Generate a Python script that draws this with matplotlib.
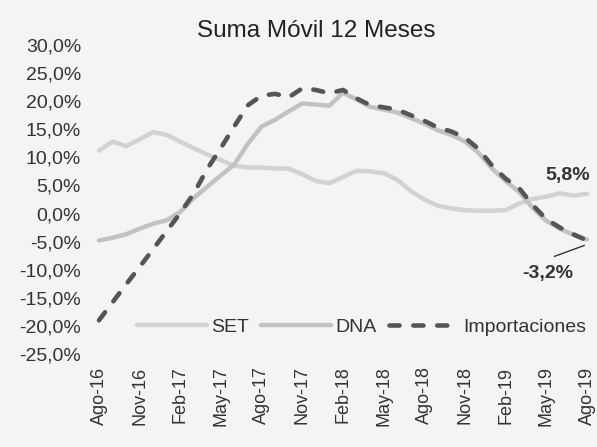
import matplotlib.pyplot as plt
import numpy as np

plt.rcParams['font.family'] = ['Liberation Sans', 'DejaVu Sans']

# monthly, Ago-16 .. Ago-19
meses = ['Ago-16', 'Nov-16', 'Feb-17', 'May-17', 'Ago-17', 'Nov-17', 'Feb-18',
         'May-18', 'Ago-18', 'Nov-18', 'Feb-19', 'May-19', 'Ago-19']

set_vals = [11.2, 12.8, 12.0, 13.2, 14.5, 14.0, 12.8, 11.6, 10.5, 9.5, 8.5, 8.2, 8.2,
            8.0, 8.0, 7.0, 5.8, 5.4, 6.5, 7.6, 7.5, 7.2, 6.0, 4.0, 2.5, 1.4, 0.9,
            0.6, 0.5, 0.5, 0.6, 1.8, 2.6, 3.0, 3.6, 3.2, 3.5]
dna_vals = [-4.8, -4.3, -3.7, -2.7, -1.8, -1.2, 0.3, 2.8, 4.8, 6.8, 8.8, 12.5, 15.5,
            16.7, 18.2, 19.6, 19.4, 19.2, 21.5, 20.3, 19.0, 18.5, 18.0, 17.0, 16.0,
            14.8, 14.0, 12.8, 10.8, 8.0, 5.8, 3.8, 1.0, -1.3, -2.7, -3.8, -4.6]
imp_vals = [-19.0, -15.8, -12.6, -9.5, -6.3, -3.1, 0.1, 3.6, 8.0, 11.7, 15.6, 19.3, 21.0,
            21.3, 20.7, 22.3, 22.0, 21.4, 22.0, 20.5, 19.3, 18.9, 18.5, 17.5, 16.5,
            15.3, 14.6, 13.5, 11.5, 8.5, 6.2, 4.5, 1.5, -1.0, -2.5, -3.7, -4.8]

x = np.arange(len(set_vals))
bg = '#f4f4f6'

fig = plt.figure(figsize=(5.97, 4.47), dpi=100, facecolor=bg)
ax = fig.add_axes([88/597, 1 - 354/447, (595-88)/597, (354-45)/447], facecolor=bg)

ax.plot(x, set_vals, color='#d2d2d2', lw=3.2, label='SET', solid_capstyle='round')
ax.plot(x, dna_vals, color='#c2c2c2', lw=3.2, label='DNA', solid_capstyle='round')
ax.plot(x, imp_vals, color='#555555', lw=3.3, ls=(0, (2.2, 3.0)), label='Importaciones',
        dash_capstyle='round')

ax.set_xlim(-0.81, 36.59)
ax.set_ylim(-25, 30)
ax.set_yticks(np.arange(-25, 31, 5))
ax.set_yticklabels([f'{v:.1f}%'.replace('.', ',') for v in np.arange(-25, 31, 5)])
ax.set_xticks(x[::3])
ax.set_xticklabels(meses, rotation=90)
ax.tick_params(length=0, labelcolor='#333333')
ax.tick_params(axis='x', pad=9, labelsize=13)
ax.tick_params(axis='y', pad=5, labelsize=14)
for s in ax.spines.values():
    s.set_visible(False)

fig.text(316/597, 1 - 31/447, 'Suma Móvil 12 Meses', fontsize=17.5, color='#222222',
         ha='center', va='center')

ax.text(34.6, 6.8, '5,8%', fontsize=14, fontweight='bold', color='#333333', ha='center', va='center')
ax.text(33.1, -10.6, '-3,2%', fontsize=14, fontweight='bold', color='#333333', ha='center', va='center')
ax.annotate('', xy=(36, -5.5), xytext=(33.4, -7.8),
            arrowprops=dict(arrowstyle='-', color='#333333', lw=1))

ax.legend(loc='center left', bbox_to_anchor=((137-88)/507, (354-327)/309), ncol=3,
          frameon=False, fontsize=14, handlelength=3.6, handletextpad=0.2,
          columnspacing=0.65, borderpad=0, borderaxespad=0, labelcolor='#333333')

fig.savefig('out.png', dpi=100, facecolor=bg)
